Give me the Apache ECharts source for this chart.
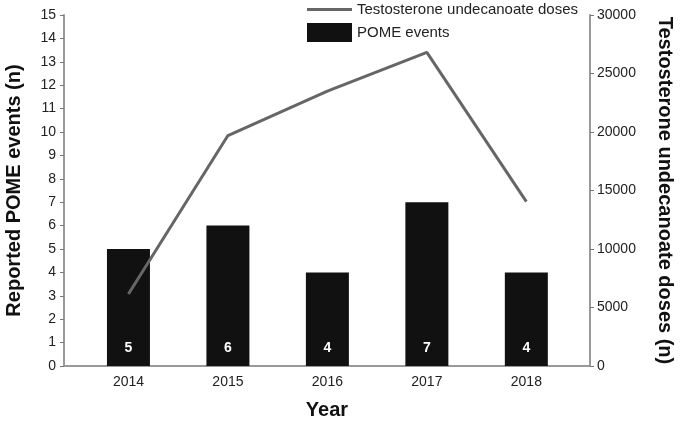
<!DOCTYPE html>
<html>
<head>
<meta charset="utf-8">
<script src="https://cdn.jsdelivr.net/npm/echarts@6/dist/echarts.min.js"></script>
<style>
    html, body { margin: 0; padding: 0; background: #fff; }
    #chart { width: 683px; height: 423px; }
</style>
</head>
<body>
<div id="chart"></div>
<script>
// Chart data
var years = [2014, 2015, 2016, 2017, 2018];
var pomeEvents = [5, 6, 4, 7, 4];
var tuDoses = [6150, 19700, 23500, 26800, 14050];

var fontFamily = "Liberation Sans, Arial, sans-serif";

var chart = echarts.init(document.getElementById("chart"));

var options = {
    animation: false,
    textStyle: { fontFamily: fontFamily },
    grid: { left: 64, right: 93, top: 15, bottom: 57, outerBoundsMode: "none", containLabel: false },
    legend: [
        {
            left: 302, top: -3,
            padding: 5,
            itemWidth: 45, itemHeight: 3,
            textStyle: { fontSize: 15, color: "#222", fontFamily: fontFamily },
            data: [{ name: "Testosterone undecanoate doses", icon: "rect" }],
        },
        {
            left: 302, top: 18,
            padding: 5,
            itemWidth: 45, itemHeight: 19,
            textStyle: { fontSize: 15, color: "#222", fontFamily: fontFamily },
            data: [{ name: "POME events", icon: "rect" }],
        },
    ],
    xAxis: {
        type: "value",
        min: 2013.352,
        max: 2018.64,
        splitLine: { show: false },
        axisLine: { lineStyle: { color: "#999", width: 2 } },
        axisTick: { show: false },
        axisLabel: {
            customValues: years,
            fontSize: 14, color: "#222", margin: 9,
            formatter: function (v) { return String(v); },
        },
        name: "Year",
        nameLocation: "middle",
        nameGap: 34,
        nameTextStyle: { fontSize: 20, fontWeight: "bold", color: "#111" },
    },
    yAxis: [
        {
            type: "value",
            min: 0, max: 15, interval: 1,
            splitLine: { show: false },
            axisLine: { show: true, lineStyle: { color: "#999", width: 2 } },
            axisTick: { show: true, length: 4, lineStyle: { color: "#777", width: 1 } },
            axisLabel: { fontSize: 14, color: "#222", margin: 8 },
            name: "Reported POME events (n)",
            nameLocation: "middle",
            nameGap: 40,
            nameTextStyle: { fontSize: 20, fontWeight: "bold", color: "#111" },
        },
        {
            type: "value",
            min: 0, max: 30000, interval: 5000,
            position: "right",
            splitLine: { show: false },
            axisLine: { show: true, lineStyle: { color: "#999", width: 2 } },
            axisTick: { show: true, length: 4, lineStyle: { color: "#777", width: 1 } },
            axisLabel: {
                fontSize: 14, color: "#222", margin: 7,
                formatter: function (v) { return String(v); },
            },
            name: "Testosterone undecanoate doses (n)",
            nameLocation: "middle",
            nameRotate: -90,
            nameGap: 65,
            nameTextStyle: { fontSize: 20, fontWeight: "bold", color: "#111" },
        },
    ],
    series: [
        {
            name: "POME events",
            type: "bar",
            barWidth: 43,
            yAxisIndex: 0,
            itemStyle: { color: "#111" },
            label: {
                show: true,
                position: "insideBottom",
                distance: 11,
                color: "#fff",
                fontSize: 14,
                fontWeight: "bold",
            },
            data: years.map((y, i) => [y, pomeEvents[i]]),
        },
        {
            name: "Testosterone undecanoate doses",
            type: "line",
            yAxisIndex: 1,
            symbol: "none",
            lineStyle: { color: "#666", width: 3 },
            itemStyle: { color: "#666" },
            data: years.map((y, i) => [y, tuDoses[i]]),
            z: 3,
        },
    ],
};

chart.setOption(options);
</script>
</body>
</html>
